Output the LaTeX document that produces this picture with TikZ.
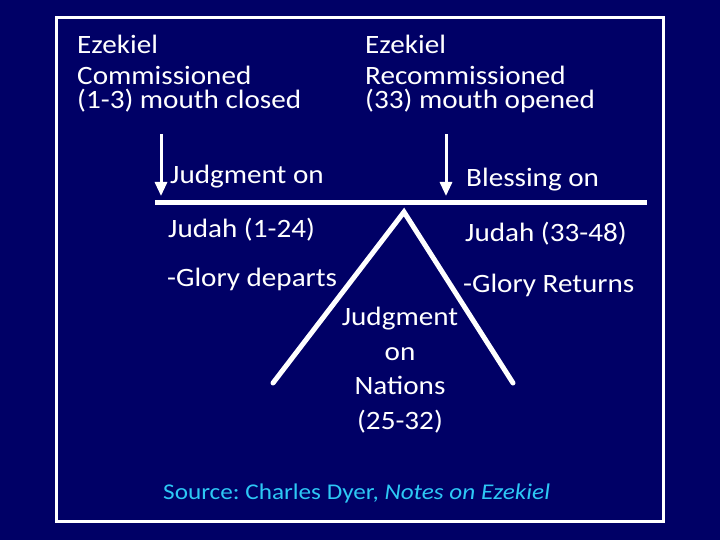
\documentclass[tikz,border=0pt]{standalone}
\usepackage{fontspec}
\setmainfont{Carlito}
\usetikzlibrary{arrows.meta}
\definecolor{navy}{RGB}{0,0,102}
\definecolor{srccyan}{RGB}{45,200,245}
\tikzset{
  txt/.style={text=white, anchor=base west, inner sep=0pt, xscale=1.1, font=\fontsize{26.5}{29}\selectfont},
  ctxt/.style={text=white, anchor=base, inner sep=0pt, xscale=1.1, font=\fontsize{26.5}{29}\selectfont},
  nodesc/.style={text depth=0pt},
  lowtop/.style={text height=16pt},
  bar/.style={draw=white, line width=5.5pt},
  leg/.style={draw=white, line width=5pt, line cap=round},
  downarrow/.style={draw=white, line width=3pt, -{Triangle[width=12pt,length=14pt]}},
}
\frenchspacing
\begin{document}
\begin{tikzpicture}[x=1pt,y=-1pt]
\fill[navy] (0,0) rectangle (720,540);
\useasboundingbox (0,0) rectangle (720,540);
\draw[white, line width=3pt] (56,18) rectangle (663,521);
% top texts
\node[txt] (e1) at (77,54) {Ezekiel};
\node[txt, nodesc] (e2) at (77,85) {Commissioned};
\node[txt, lowtop] (e3) at (77,109) {(1-3) mouth closed};
\node[txt] (r1) at (365,54) {Ezekiel};
\node[txt, nodesc] (r2) at (365,85) {Recommissioned};
\node[txt, lowtop] (r3) at (365,109) {(33) mouth opened};
% arrows
\coordinate (a1s) at (161,134);
\coordinate (a1e) at (161,196);
\coordinate (a2s) at (446,134);
\coordinate (a2e) at (446,196);
\draw[downarrow] (a1s) -- (a1e);
\draw[downarrow] (a2s) -- (a2e);
% horizontal bar
\coordinate (hl) at (155,202.5);
\coordinate (hr) at (647,202.5);
\draw[bar] (hl) -- (hr);
% triangle legs
\coordinate (apex) at (404,212);
\coordinate (lend) at (273,383);
\coordinate (rend) at (513,383);
\draw[leg] (lend) -- (apex) -- (rend);
% side texts
\node[txt] (j1) at (170,183.5) {Judgment on};
\node[txt] (j2) at (168,237.5) {Judah (1-24)};
\node[txt] (j3) at (167,286.5) {-Glory departs};
\node[txt] (b1) at (466,187) {Blessing on};
\node[txt] (b2) at (465,241) {Judah (33-48)};
\node[txt] (b3) at (463,292.5) {-Glory Returns};
% center
\node[ctxt] (n1) at (400,325) {Judgment};
\node[ctxt] (n2) at (400,360) {on};
\node[ctxt] (n3) at (400,394) {Nations};
\node[ctxt] (n4) at (400,429) {(25-32)};
% source
\node[anchor=base west, inner sep=0pt, text=srccyan, xscale=1.12, font=\fontsize{22.5}{25}\selectfont] (src) at (163,499.5) {Source: Charles Dyer, \textit{Notes on Ezekiel}};
\end{tikzpicture}
\end{document}
